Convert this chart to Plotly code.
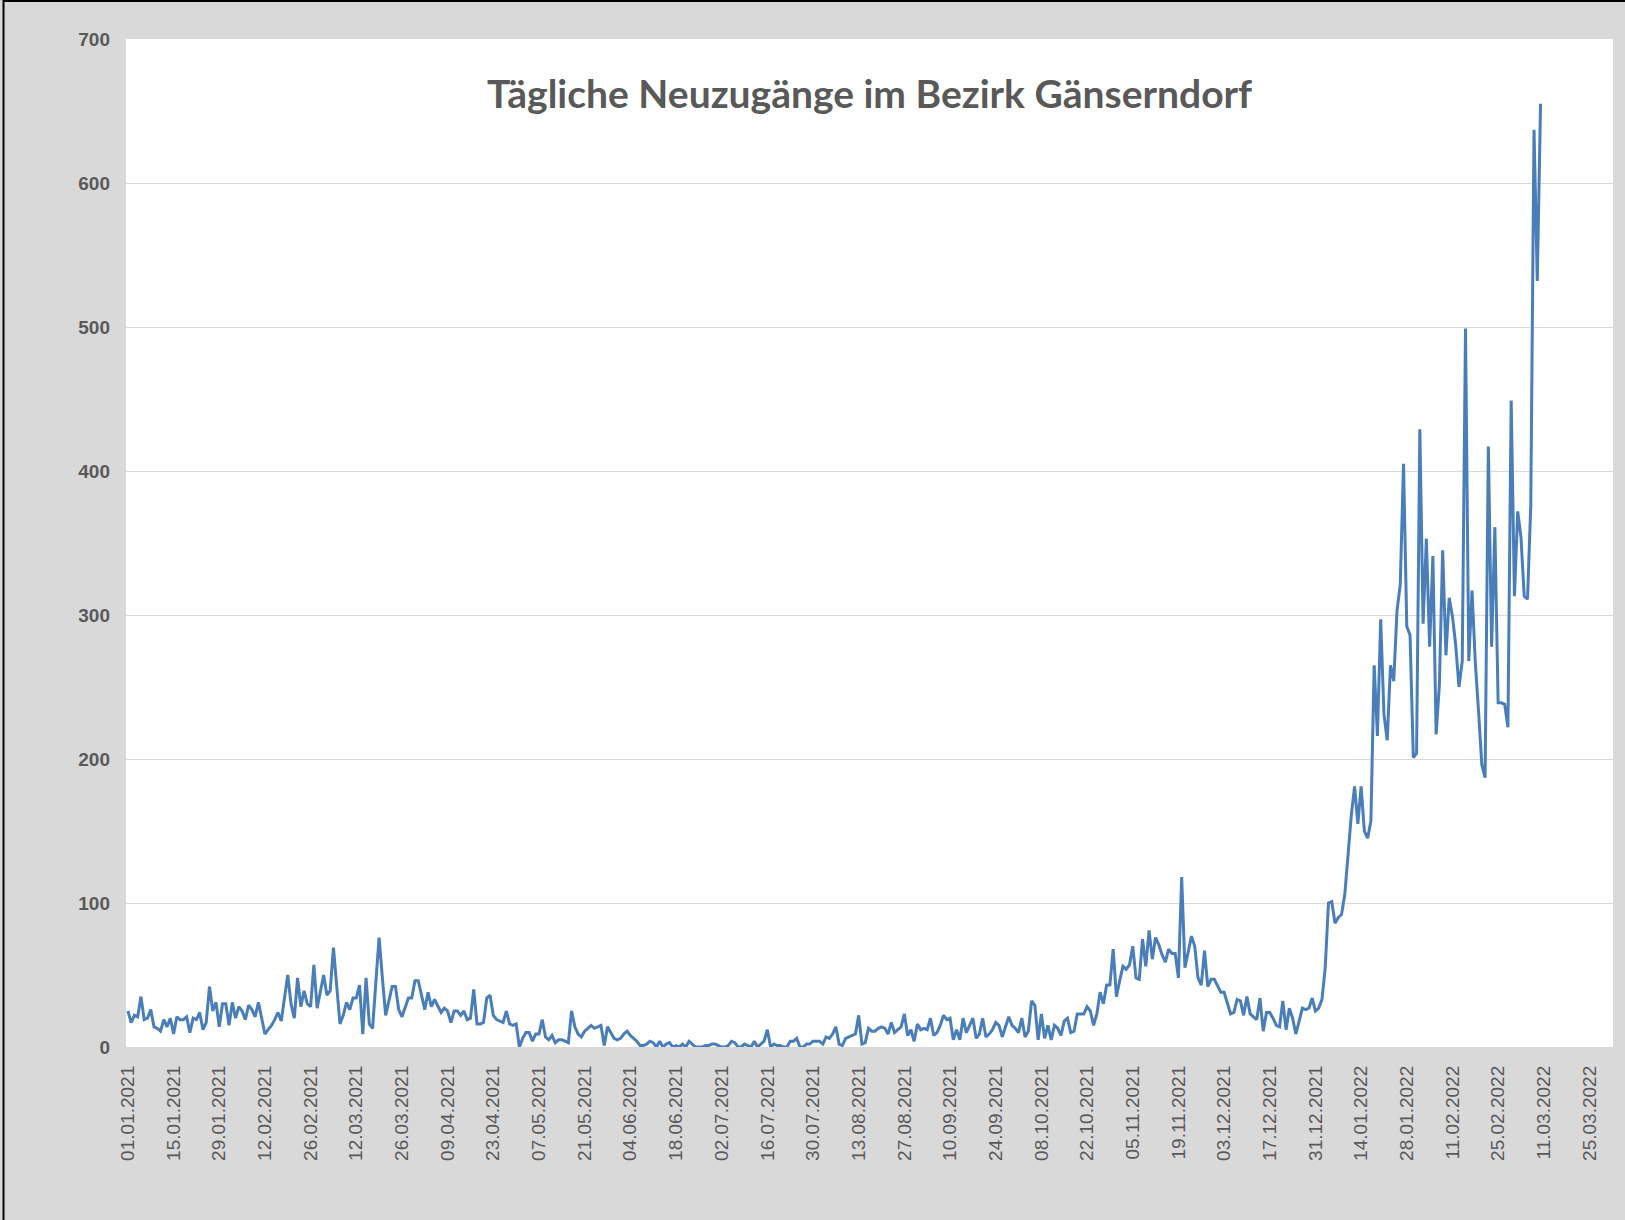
import pandas as pd
import plotly.graph_objects as go

start_date = "2021-01-01"
neuzugaenge = [
    25,17,22,21,35,19,20,26,14,13,
    11,19,14,20,9,21,19,19,21,10,
    20,19,24,12,17,42,25,31,14,30,
    30,15,31,20,28,25,19,29,26,21,
    31,21,9,12,15,19,24,18,33,50,
    30,20,48,28,39,30,28,57,27,38,
    50,36,39,69,45,16,22,31,26,34,
    34,43,9,48,16,13,45,76,48,22,
    32,42,42,26,21,28,34,34,46,46,
    37,26,38,28,33,28,24,27,25,17,
    25,25,22,25,19,20,40,16,16,17,
    34,36,22,19,18,17,25,16,15,16,
    0,6,10,10,4,9,9,19,7,5,
    8,3,5,5,4,3,25,14,9,7,
    11,13,15,13,14,15,1,14,10,6,
    5,6,9,11,8,6,4,1,1,2,
    4,3,0,4,0,2,3,0,1,0,
    2,0,4,2,0,0,0,1,1,2,
    2,1,0,0,1,4,3,0,0,2,
    1,0,4,0,2,4,12,0,2,1,
    1,0,0,4,4,6,0,0,2,2,
    4,4,4,2,7,6,9,14,2,1,
    6,7,8,9,22,2,3,13,11,11,
    13,14,13,9,17,10,12,14,23,8,
    12,4,16,12,13,12,20,8,10,15,
    22,19,20,5,12,5,20,10,15,20,
    6,9,20,7,9,12,17,15,7,14,
    21,15,13,10,20,7,11,32,29,5,
    23,6,15,5,15,13,8,18,20,10,
    11,23,23,23,28,25,15,23,38,30,
    43,43,68,35,46,56,54,57,70,48,
    47,75,56,81,61,76,71,64,59,68,
    65,65,48,118,55,67,77,70,48,43,
    67,42,47,47,43,38,38,31,23,24,
    33,32,22,35,23,21,19,34,11,24,
    24,20,15,14,32,12,27,20,9,18,
    27,26,27,34,25,27,33,55,100,101,
    86,90,92,106,134,161,181,155,181,150,
    145,157,265,216,297,231,213,265,254,303,
    321,405,292,286,201,204,429,294,353,278,
    341,217,252,345,272,312,299,279,250,268,
    499,268,317,267,233,196,187,417,278,361,
    239,239,238,222,449,313,372,354,313,311,
    376,637,532,655,
]

tick_labels = [
    "01.01.2021","15.01.2021","29.01.2021","12.02.2021","26.02.2021","12.03.2021",
    "26.03.2021","09.04.2021","23.04.2021","07.05.2021","21.05.2021","04.06.2021",
    "18.06.2021","02.07.2021","16.07.2021","30.07.2021","13.08.2021","27.08.2021",
    "10.09.2021","24.09.2021","08.10.2021","22.10.2021","05.11.2021","19.11.2021",
    "03.12.2021","17.12.2021","31.12.2021","14.01.2022","28.01.2022","11.02.2022",
    "25.02.2022","11.03.2022","25.03.2022",
]
y_ticks = [0, 100, 200, 300, 400, 500, 600, 700]

dates = pd.date_range(start_date, periods=len(neuzugaenge), freq="D")
tick_vals = pd.to_datetime(tick_labels, format="%d.%m.%Y")

W, H = 1625, 1220
ml, mr, mt, mb = 126, 12, 39, 173
pw, ph = W - ml - mr, H - mt - mb

fig = go.Figure()
fig.add_trace(go.Scatter(
    x=dates, y=neuzugaenge, mode="lines",
    line=dict(color="#4a7ebb", width=3),
    hoverinfo="x+y", showlegend=False,
))

def px_x(px):
    return (px - ml) / pw

def px_y(py):
    return (H - mb - py) / ph

fig.update_layout(
    width=W, height=H,
    margin=dict(l=ml, r=mr, t=mt, b=mb, pad=0),
    paper_bgcolor="#d9d9d9",
    plot_bgcolor="#ffffff",
    title=dict(
        text="<b>Tägliche Neuzugänge im Bezirk Gänserndorf</b>",
        x=0.5, xref="paper", xanchor="center",
        y=1 - 94 / H, yref="container", yanchor="middle",
        font=dict(family="Lato, Open Sans, sans-serif", size=39, color="#595959"),
    ),
    xaxis=dict(
        type="date",
        range=[pd.Timestamp(start_date) - pd.Timedelta(hours=14),
               pd.Timestamp(start_date) + pd.Timedelta(days=455, hours=5)],
        tickmode="array", tickvals=tick_vals, ticktext=tick_labels,
        tickangle=-90,
        tickfont=dict(family="Liberation Sans, Arial, sans-serif", size=19, color="#595959"),
        showgrid=False, zeroline=False, showline=False, ticks="",
        ticklabelstandoff=14,
    ),
    yaxis=dict(
        range=[0, 700], tickmode="array", tickvals=y_ticks,
        tickfont=dict(family="Liberation Sans, Arial, sans-serif", size=19,
                      color="#595959", weight="bold"),
        showgrid=True, gridcolor="#d9d9d9", gridwidth=1,
        zeroline=False, showline=False, ticks="",
        ticklabelstandoff=15,
    ),
    shapes=[
        dict(type="line", xref="paper", yref="paper",
             x0=px_x(3.5), x1=px_x(3.5), y0=px_y(0), y1=px_y(H),
             line=dict(color="#000000", width=2)),
        dict(type="line", xref="paper", yref="paper",
             x0=px_x(3.5), x1=px_x(W), y0=px_y(1), y1=px_y(1),
             line=dict(color="#000000", width=2)),
    ],
)

fig.write_html(
    "out.html",
    config={"displayModeBar": False},
    post_script="document.body.style.margin='0';document.body.style.overflow='hidden';",
)
